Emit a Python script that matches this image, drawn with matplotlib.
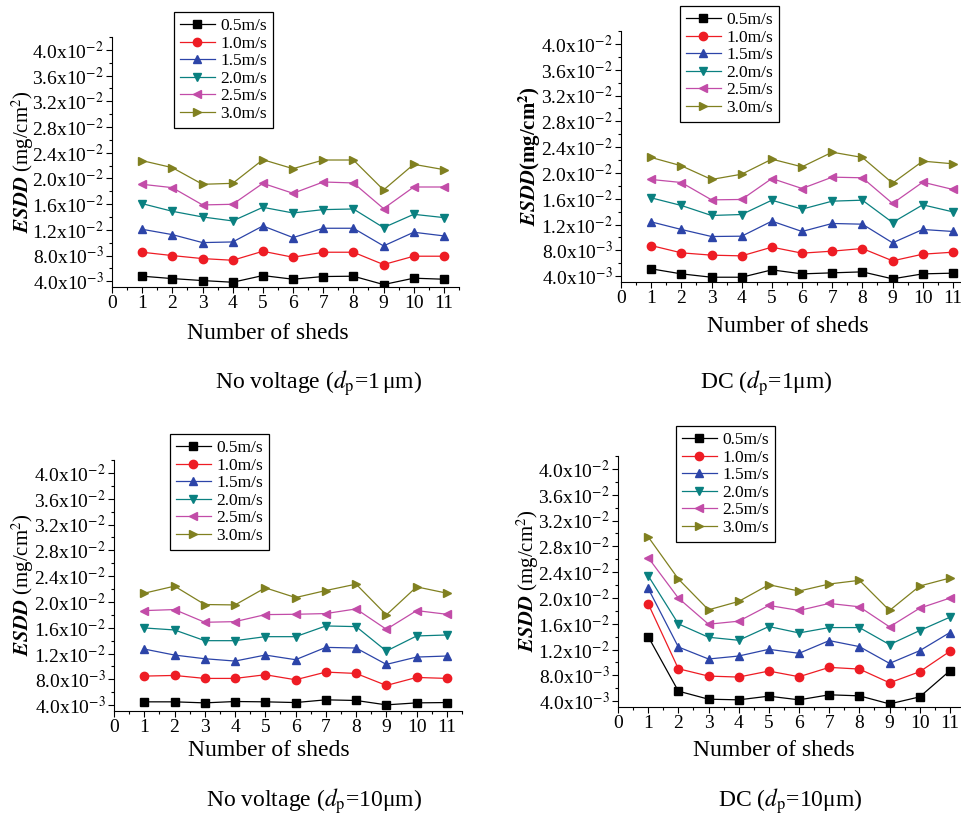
import numpy as np
import matplotlib
matplotlib.use('Agg')
import matplotlib.pyplot as plt
from matplotlib.ticker import MultipleLocator, FuncFormatter

plt.rcParams['font.family'] = ['Liberation Serif', 'DejaVu Serif']
plt.rcParams['mathtext.fontset'] = 'stix'

# ---------------- data (ESDD, mg/cm2) ----------------
sheds = [1, 2, 3, 4, 5, 6, 7, 8, 9, 10, 11]
speeds = ['0.5m/s', '1.0m/s', '1.5m/s', '2.0m/s', '2.5m/s', '3.0m/s']

# No voltage, dp = 1um
nv_1um_05 = [0.00478, 0.00441, 0.00410, 0.00384, 0.00488, 0.00431, 0.00473, 0.00478, 0.00348, 0.00447, 0.00431]
nv_1um_10 = [0.00851, 0.00799, 0.00752, 0.00726, 0.00866, 0.00773, 0.00851, 0.00851, 0.00659, 0.00789, 0.00789]
nv_1um_15 = [0.01208, 0.01125, 0.01001, 0.01011, 0.01260, 0.01079, 0.01224, 0.01224, 0.00949, 0.01162, 0.01105]
nv_1um_20 = [0.01607, 0.01488, 0.01400, 0.01338, 0.01550, 0.01462, 0.01514, 0.01524, 0.01234, 0.01441, 0.01390]
nv_1um_25 = [0.01908, 0.01856, 0.01587, 0.01597, 0.01923, 0.01768, 0.01944, 0.01929, 0.01530, 0.01866, 0.01866]
nv_1um_30 = [0.02276, 0.02167, 0.01908, 0.01923, 0.02291, 0.02151, 0.02286, 0.02286, 0.01820, 0.02219, 0.02136]

# DC, dp = 1um
dc_1um_05 = [0.00514, 0.00436, 0.00384, 0.00384, 0.00498, 0.00436, 0.00452, 0.00467, 0.00359, 0.00436, 0.00447]
dc_1um_10 = [0.00875, 0.00762, 0.00726, 0.00715, 0.00850, 0.00757, 0.00788, 0.00829, 0.00638, 0.00741, 0.00772]
dc_1um_15 = [0.01242, 0.01124, 0.01015, 0.01020, 0.01253, 0.01093, 0.01217, 0.01206, 0.00917, 0.01124, 0.01093]
dc_1um_20 = [0.01614, 0.01496, 0.01341, 0.01356, 0.01578, 0.01439, 0.01563, 0.01578, 0.01232, 0.01506, 0.01397]
dc_1um_25 = [0.01899, 0.01852, 0.01583, 0.01589, 0.01914, 0.01759, 0.01935, 0.01925, 0.01527, 0.01857, 0.01744]
dc_1um_30 = [0.02240, 0.02111, 0.01899, 0.01981, 0.02214, 0.02095, 0.02322, 0.02240, 0.01842, 0.02183, 0.02142]

# No voltage, dp = 10um
nv_10um_05 = [0.00452, 0.00452, 0.00436, 0.00457, 0.00452, 0.00441, 0.00483, 0.00473, 0.00405, 0.00436, 0.00441]
nv_10um_10 = [0.00851, 0.00861, 0.00815, 0.00815, 0.00872, 0.00794, 0.00913, 0.00892, 0.00706, 0.00830, 0.00815]
nv_10um_15 = [0.01270, 0.01177, 0.01120, 0.01084, 0.01177, 0.01105, 0.01296, 0.01286, 0.01032, 0.01146, 0.01162]
nv_10um_20 = [0.01597, 0.01566, 0.01400, 0.01400, 0.01462, 0.01462, 0.01628, 0.01618, 0.01239, 0.01473, 0.01488]
nv_10um_25 = [0.01866, 0.01882, 0.01685, 0.01695, 0.01804, 0.01809, 0.01820, 0.01892, 0.01576, 0.01866, 0.01809]
nv_10um_30 = [0.02136, 0.02245, 0.01960, 0.01954, 0.02219, 0.02068, 0.02177, 0.02276, 0.01799, 0.02234, 0.02136]

# DC, dp = 10um
dc_10um_05 = [0.01401, 0.00556, 0.00431, 0.00421, 0.00478, 0.00421, 0.00499, 0.00483, 0.00358, 0.00467, 0.00872]
dc_10um_10 = [0.01910, 0.00903, 0.00789, 0.00774, 0.00867, 0.00779, 0.00924, 0.00898, 0.00685, 0.00857, 0.01173]
dc_10um_15 = [0.02148, 0.01240, 0.01054, 0.01100, 0.01204, 0.01142, 0.01339, 0.01246, 0.00986, 0.01183, 0.01464]
dc_10um_20 = [0.02345, 0.01598, 0.01391, 0.01344, 0.01557, 0.01458, 0.01541, 0.01541, 0.01277, 0.01495, 0.01702]
dc_10um_25 = [0.02626, 0.01998, 0.01593, 0.01640, 0.01884, 0.01806, 0.01915, 0.01863, 0.01552, 0.01842, 0.01998]
dc_10um_30 = [0.02947, 0.02294, 0.01816, 0.01946, 0.02205, 0.02107, 0.02216, 0.02273, 0.01806, 0.02185, 0.02309]

colors = ['#000000', '#ee1c24', '#2c44a8', '#0a8080', '#c24ca8', '#808020']
markers = ['s', 'o', '^', 'v', '<', '>']


def fmt(v, pos):
    if v <= 0:
        return ''
    e = int(np.floor(np.log10(v) + 1e-9))
    m = v / 10.0 ** e
    return '%.1fx10$^{%d}$' % (m, e)


# panel settings: axes rect (pixels), legend corner, xlabel coords, caption pos, ylabel pos
W, H = 962.0, 817.0
panels = [
    dict(series=[nv_1um_05, nv_1um_10, nv_1um_15, nv_1um_20, nv_1um_25, nv_1um_30],
         rect=(112, 37, 347, 250), leg=(174, 12), xl=(268, 333),
         cap=(319, 383), caption=r'No voltage ($d_{\mathrm{p}}$=1$\,$μm)',
         yl=(23, 162), bold=False),
    dict(series=[dc_1um_05, dc_1um_10, dc_1um_15, dc_1um_20, dc_1um_25, dc_1um_30],
         rect=(621, 31, 347, 251), leg=(680, 6), xl=(788, 327),
         cap=(766, 383), caption=r'DC ($d_{\mathrm{p}}$=1μm)',
         yl=(530, 156), bold=True),
    dict(series=[nv_10um_05, nv_10um_10, nv_10um_15, nv_10um_20, nv_10um_25, nv_10um_30],
         rect=(114, 460, 348, 251), leg=(170, 434), xl=(269, 750),
         cap=(314, 801), caption=r'No voltage ($d_{\mathrm{p}}$=10μm)',
         yl=(23, 585), bold=False),
    dict(series=[dc_10um_05, dc_10um_10, dc_10um_15, dc_10um_20, dc_10um_25, dc_10um_30],
         rect=(618, 456, 347, 251), leg=(676, 426), xl=(774, 750),
         cap=(790, 801), caption=r'DC ($d_{\mathrm{p}}$=10μm)',
         yl=(528, 581), bold=False),
]

fig = plt.figure(figsize=(9.62, 8.17), dpi=100)

for p in panels:
    l, t, w, h = p['rect']
    ax = fig.add_axes([l / W, 1 - (t + h) / H, w / W, h / H])
    for i in range(6):
        ax.plot(sheds, p['series'][i], color=colors[i], marker=markers[i],
                markersize=6, linewidth=0.9, label=speeds[i])
    ax.set_xlim(0, 11.5)
    ax.set_ylim(0.0031, 0.042)
    ax.spines['top'].set_visible(False)
    ax.spines['right'].set_visible(False)
    ax.xaxis.set_major_locator(MultipleLocator(1))
    ax.xaxis.set_minor_locator(MultipleLocator(0.5))
    ax.yaxis.set_major_locator(MultipleLocator(0.004))
    ax.yaxis.set_minor_locator(MultipleLocator(0.002))
    ax.yaxis.set_major_formatter(FuncFormatter(fmt))
    ax.tick_params(which='major', direction='out', length=4, width=0.8, labelsize=14, pad=2)
    ax.tick_params(which='minor', direction='out', length=2, width=0.8)

    ax.set_xlabel('Number of sheds', fontsize=17, va='center')
    ax.xaxis.set_label_coords((p['xl'][0] - l) / w, (t + h - p['xl'][1]) / h)

    fig.text(p['yl'][0] / W, 1 - p['yl'][1] / H,
             r'$\mathbfit{ESDD}$(mg/cm$^{\mathbf{2}}$)' if p['bold'] else r'$\mathbfit{ESDD}$ (mg/cm$^2$)',
             rotation=90, fontsize=15, ha='center', va='center',
             fontweight='bold' if p['bold'] else 'normal')

    fig.text(p['cap'][0] / W, 1 - p['cap'][1] / H, p['caption'], fontsize=17,
             ha='center', va='center')

    leg = ax.legend(loc='upper left', bbox_to_anchor=(p['leg'][0] / W, 1 - p['leg'][1] / H),
                    bbox_transform=fig.transFigure, borderaxespad=0, fontsize=12.5,
                    fancybox=False, framealpha=1, edgecolor='black', handlelength=2.0,
                    handletextpad=0.3, labelspacing=0.08, borderpad=0.35)
    leg.get_frame().set_linewidth(0.9)

fig.savefig('out.png', dpi=100)
